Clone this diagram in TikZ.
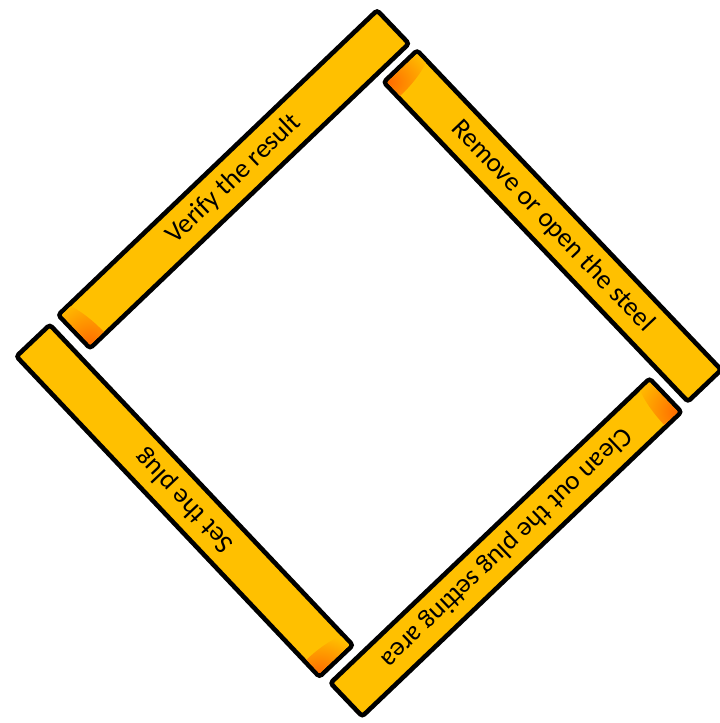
\documentclass[tikz,border=0pt]{standalone}
\usepackage{fontspec}
\setmainfont{Carlito}
\definecolor{barfill}{HTML}{FFC000}
\definecolor{glow}{HTML}{FF6A00}
\begin{document}
\begin{tikzpicture}[x=1pt,y=1pt,
  barbox/.style={draw=black, line width=4.6pt, fill=barfill, rounded corners=3pt,
    minimum width=441pt, minimum height=46pt, inner sep=0pt, outer sep=0pt,
    font=\fontsize{27}{32}\selectfont, text=black},
  glowshade/.style={inner color=glow, outer color=barfill}
]
\useasboundingbox (0,0) rectangle (720,723);

% Bar 1
\begin{scope}[shift={(233.6,543.7)}, rotate=43.7, transform shape]
  \node[barbox] (bar1) at (0,0) {Verify the result};
  \begin{scope}
    \clip[rounded corners=1pt] (-218.2,-20.7) rectangle (218.2,20.7);
    \shade[glowshade] (-218.2,-20.7) ellipse (19 and 56);
  \end{scope}
\end{scope}

% Bar 2
\begin{scope}[shift={(552.5,497)}, rotate=-46.4, transform shape]
  \node[barbox] (bar2) at (0,0) {Remove or open the steel};
  \begin{scope}
    \clip[rounded corners=1pt] (-218.2,-20.7) rectangle (218.2,20.7);
    \shade[glowshade] (-218.2,-20.7) ellipse (19 and 56);
  \end{scope}
\end{scope}

% Bar 3
\begin{scope}[shift={(505.9,175.5)}, rotate=223.65, transform shape]
  \node[barbox] (bar3) at (0,0) {Clean out the plug setting area};
  \begin{scope}
    \clip[rounded corners=1pt] (-218.2,-20.7) rectangle (218.2,20.7);
    \shade[glowshade] (-218.2,20.7) ellipse (19 and 56);
  \end{scope}
\end{scope}

% Bar 4
\begin{scope}[shift={(184.6,222.2)}, rotate=133.4, transform shape]
  \node[barbox] (bar4) at (0,0) {Set the plug};
  \begin{scope}
    \clip[rounded corners=1pt] (-218.2,-20.7) rectangle (218.2,20.7);
    \shade[glowshade] (-218.2,20.7) ellipse (19 and 56);
  \end{scope}
\end{scope}
\end{tikzpicture}
\end{document}
